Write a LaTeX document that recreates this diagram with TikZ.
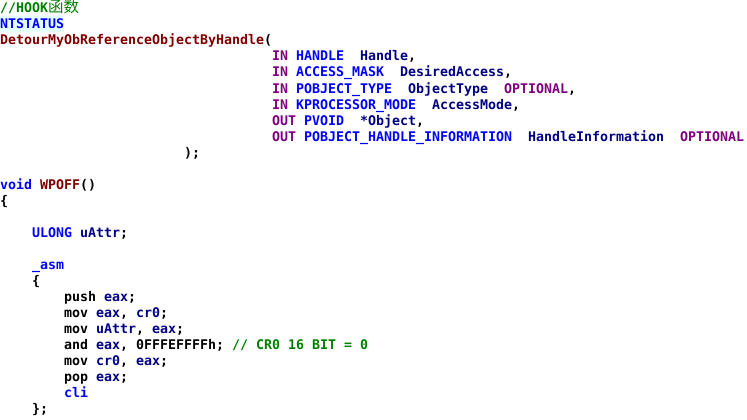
\documentclass[tikz,border=0pt]{standalone}
\usepackage{fontspec}
\newfontfamily\codefont{DejaVu Sans Mono Bold}
\newfontfamily\cjkfont{Noto Sans CJK SC}
\definecolor{cgreen}{HTML}{008000}
\definecolor{cblue}{HTML}{0000FF}
\definecolor{cnavy}{HTML}{000080}
\definecolor{cpurple}{HTML}{800080}
\definecolor{cred}{HTML}{800000}
\definecolor{chl}{HTML}{E4FFFF}
\newcommand\Kg[1]{\textcolor{cgreen}{#1}}
\newcommand\Kb[1]{\textcolor{cblue}{#1}}
\newcommand\Kn[1]{\textcolor{cnavy}{#1}}
\newcommand\Kp[1]{\textcolor{cpurple}{#1}}
\newcommand\Kr[1]{\textcolor{cred}{#1}}
\tikzset{codeline/.style={anchor=base west, inner sep=0pt, outer sep=0pt,
  font=\codefont\fontsize{13.29}{16}\selectfont\frenchspacing}}
\newcommand\Lpos[2]{(#1*8pt, -13pt-#2*16pt)}
\begin{document}
\begin{tikzpicture}[x=1pt,y=1pt]
\useasboundingbox (0,0) rectangle (747,-420);
\fill[white] (0,0) rectangle (747,-420);
\fill[chl] (0,-16) rectangle (64,-32);
\node[codeline] (l0) at (0,-13) {\Kg{//HOOK{\cjkfont\fontsize{15.5}{16}\selectfont 函数}}};
\node[codeline] (l1) at (0,-29) {\Kb{NTSTATUS}};
\node[codeline] (l2) at (0,-45) {\Kr{DetourMyObReferenceObjectByHandle}(};
\node[codeline] (l3) at (272,-61) {\Kp{IN} \Kb{HANDLE}~~\Kn{Handle},};
\node[codeline] (l4) at (272,-77) {\Kp{IN} \Kb{ACCESS\_MASK}~~\Kn{DesiredAccess},};
\node[codeline] (l5) at (272,-93) {\Kp{IN} \Kb{POBJECT\_TYPE}~~\Kn{ObjectType}~~\Kp{OPTIONAL},};
\node[codeline] (l6) at (272,-109) {\Kp{IN} \Kb{KPROCESSOR\_MODE}~~\Kn{AccessMode},};
\node[codeline] (l7) at (272,-125) {\Kp{OUT} \Kb{PVOID}~~\Kn{*Object},};
\node[codeline] (l8) at (272,-141) {\Kp{OUT} \Kb{POBJECT\_HANDLE\_INFORMATION}~~\Kn{HandleInformation}~~\Kp{OPTIONAL}};
\node[codeline] (l9) at (184,-157) {);};
\node[codeline] (l11) at (0,-189) {\Kb{void} \Kr{WPOFF}()};
\node[codeline] (l12) at (0,-205) {\{};
\node[codeline] (l14) at (32,-237) {\Kb{ULONG} \Kn{uAttr};};
\node[codeline] (l16) at (32,-269) {\Kb{\_asm}};
\node[codeline] (l17) at (32,-285) {\{};
\node[codeline] (l18) at (64,-301) {push \Kn{eax};};
\node[codeline] (l19) at (64,-317) {mov \Kn{eax}, \Kn{cr0};};
\node[codeline] (l20) at (64,-333) {mov \Kn{uAttr}, \Kn{eax};};
\node[codeline] (l21) at (64,-349) {and \Kn{eax}, 0FFFEFFFFh; \Kg{// CR0 16 BIT = 0}};
\node[codeline] (l22) at (64,-365) {mov \Kn{cr0}, \Kn{eax};};
\node[codeline] (l23) at (64,-381) {pop \Kn{eax};};
\node[codeline] (l24) at (64,-397) {\Kb{cli}};
\node[codeline] (l25) at (32,-413) {\};};
\end{tikzpicture}
\end{document}
